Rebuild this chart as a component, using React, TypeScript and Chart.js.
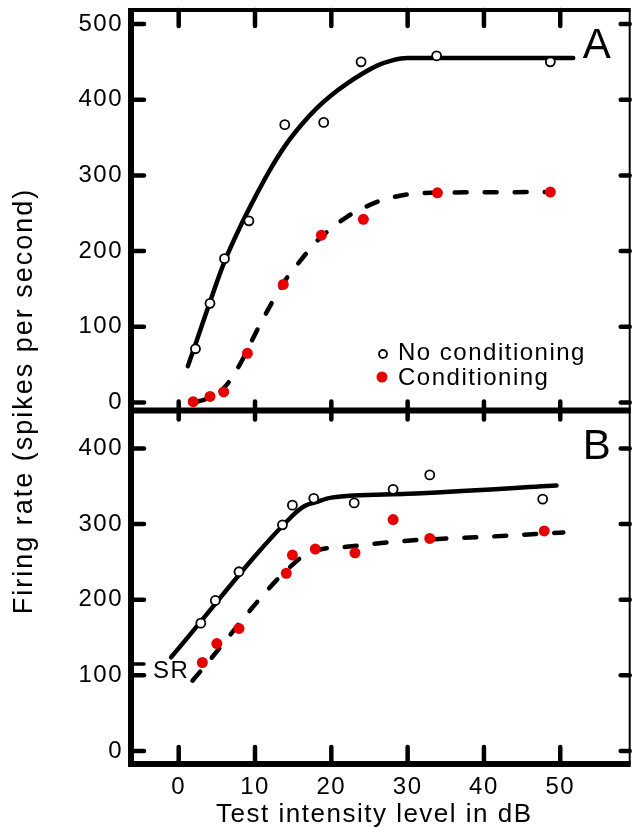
import React, { useEffect, useRef } from "react";
import { Chart, registerables } from "chart.js";

Chart.register(...registerables);

// ---- tick values ----
const xTicks = [0, 10, 20, 30, 40, 50];
const yTicksA = [0, 100, 200, 300, 400, 500];
const yTicksB = [0, 100, 200, 300, 400];
const srValue = 115;

// ---- labels ----
const seriesLabels = ["No conditioning", "Conditioning"];
const xTitle = "Test intensity level in dB";
const yTitle = "Firing rate (spikes per second)";
const panelLabels = ["A", "B"];

// ---- Panel A data ----
const aNoCondX = [2.2, 4.1, 6.0, 9.2, 13.9, 19.0, 23.9, 33.8, 48.7];
const aNoCondY = [71, 131, 190, 240, 367, 370, 450, 458, 450];
const aCondX = [1.9, 4.1, 5.9, 9.0, 13.7, 18.7, 24.2, 33.9, 48.7];
const aCondY = [1, 8, 14, 65, 156, 221, 242, 277, 278];
const aFitNoX = [1.2, 2, 4, 6, 8, 10, 12, 14, 16, 18, 20, 22, 24, 26, 28, 30, 40, 51.7];
const aFitNoY = [48, 71, 130, 186, 231, 271, 308, 340, 366, 388, 406, 421, 434, 445, 452, 455, 455, 455];
const aFitCondX = [1.9, 4, 6, 8, 10, 12, 14, 16, 18, 20, 22, 24, 26, 28, 30, 33, 49];
const aFitCondY = [0, 6, 20, 50, 90, 128, 162, 188, 212, 230, 245, 256, 265, 271, 275, 277, 278];

// ---- Panel B data ----
const bNoCondX = [2.9, 4.8, 7.9, 13.6, 14.9, 17.7, 23.0, 28.1, 32.9, 47.7];
const bNoCondY = [169, 199, 237, 299, 325, 334, 328, 346, 365, 333];
const bCondX = [3.1, 5.0, 7.9, 14.1, 14.9, 17.9, 23.1, 28.1, 32.9, 47.9];
const bCondY = [117, 142, 162, 235, 259, 267, 262, 306, 281, 291];
const bFitNoX = [-1, 15, 16.5, 18, 20, 30, 49.5];
const bFitNoY = [124, 312, 324, 329, 335, 340, 351];
const bFitCondX = [1.8, 15.8, 18, 22, 30, 40, 50.4];
const bFitCondY = [93, 254, 265, 270, 278, 283, 289];

const RED = "#e60000";
const FONT = "'Liberation Sans', Arial, Helvetica, sans-serif";

const pts = (xs: number[], ys: number[]) => xs.map((x, i) => ({ x, y: ys[i] }));

const framePlugin = {
  id: "frame",
  beforeDraw(chart: any) {
    chart.ctx.letterSpacing = "1.5px";
  },
  afterDraw(chart: any) {
    const { ctx, chartArea, scales } = chart;
    const xs = scales.x;
    const yA = scales.yA;
    const yB = scales.yB;
    const L = chartArea.left;
    const R = chartArea.right;
    const T = chartArea.top;
    const Bt = chartArea.bottom;
    const mid = yA.bottom;
    ctx.save();
    ctx.strokeStyle = "#000";
    ctx.fillStyle = "#000";
    const line = (x1: number, y1: number, x2: number, y2: number, w: number) => {
      ctx.lineWidth = w;
      ctx.beginPath();
      ctx.moveTo(x1, y1);
      ctx.lineTo(x2, y2);
      ctx.stroke();
    };
    ctx.lineCap = "butt";
    line(L, T - 2, L, Bt + 3, 6);
    line(L - 3, T, R + 1, T, 4);
    line(L - 3, mid, R + 1, mid, 6);
    line(L - 3, Bt, R + 1, Bt, 6);
    line(R, T, R, Bt, 2);

    ctx.lineCap = "round";
    for (const v of yTicksA) {
      const p = yA.getPixelForValue(v);
      line(L, p, L + 13, p, 4.5);
      line(R, p, R - 9, p, 4.5);
    }
    for (const v of yTicksB) {
      const p = yB.getPixelForValue(v);
      line(L, p, L + 13, p, 4.5);
      line(R, p, R - 9, p, 4.5);
    }
    const srP = yB.getPixelForValue(srValue);
    line(L, srP, L + 13, srP, 3.5);
    for (const v of xTicks) {
      const p = xs.getPixelForValue(v);
      line(p, T, p, T + 16, 4.5);
      line(p, mid - 9, p, mid + 9, 4.5);
      line(p, Bt - 17, p, Bt, 4.5);
    }

    // texts
    ctx.letterSpacing = "1.5px";
    ctx.textBaseline = "middle";
    ctx.textAlign = "left";
    ctx.font = `24px ${FONT}`;
    ctx.fillText("SR", L + 22, srP + 7);

    // legend
    const lx = 383;
    ctx.font = `24px ${FONT}`;
    ctx.beginPath();
    ctx.arc(lx, 354, 4, 0, Math.PI * 2);
    ctx.fillStyle = "#fff";
    ctx.fill();
    ctx.lineWidth = 1.8;
    ctx.stroke();
    ctx.fillStyle = "#000";
    ctx.fillText(seriesLabels[0], lx + 15, 353);
    ctx.beginPath();
    ctx.arc(lx - 1, 377, 5.5, 0, Math.PI * 2);
    ctx.fillStyle = RED;
    ctx.fill();
    ctx.fillStyle = "#000";
    ctx.fillText(seriesLabels[1], lx + 15, 378);

    // panel letters
    ctx.letterSpacing = "0px";
    ctx.textAlign = "center";
    ctx.font = `42px ${FONT}`;
    ctx.fillText(panelLabels[0], R - 33, T + 36);
    ctx.fillText(panelLabels[1], R - 33, mid + 37);

    // axis titles
    ctx.letterSpacing = "1.5px";
    ctx.font = `26px ${FONT}`;
    ctx.fillText(xTitle, (L + R) / 2 - 6, Bt + 51);
    ctx.save();
    ctx.translate(25, (T + Bt) / 2 + 14);
    ctx.rotate(-Math.PI / 2);
    ctx.letterSpacing = "2px";
    ctx.font = `27px ${FONT}`;
    ctx.textAlign = "center";
    ctx.fillText(yTitle, 0, 0);
    ctx.restore();
    ctx.restore();
  },
};

export default function App() {
  const ref = useRef<HTMLCanvasElement | null>(null);
  useEffect(() => {
    document.body.style.margin = "0";
    const canvas = ref.current!;
    const lineDs = (xsArr: number[], ysArr: number[], yAxisID: string, dashed: boolean) => ({
      type: "scatter" as const,
      data: pts(xsArr, ysArr),
      yAxisID,
      xAxisID: "x",
      showLine: true,
      fill: false,
      borderColor: "#000",
      borderWidth: 4.5,
      borderDash: dashed ? [12, 18] : [],
      borderCapStyle: "round",
      borderJoinStyle: "round",
      cubicInterpolationMode: "monotone",
      pointRadius: 0,
      pointHoverRadius: 0,
      order: 1,
    });
    const openDs = (xsArr: number[], ysArr: number[], yAxisID: string) => ({
      type: "scatter" as const,
      label: seriesLabels[0],
      data: pts(xsArr, ysArr),
      yAxisID,
      xAxisID: "x",
      showLine: false,
      pointRadius: 4.5,
      pointBorderWidth: 1.8,
      pointBackgroundColor: "#fff",
      pointBorderColor: "#000",
      order: 0,
    });
    const redDs = (xsArr: number[], ysArr: number[], yAxisID: string) => ({
      type: "scatter" as const,
      label: seriesLabels[1],
      data: pts(xsArr, ysArr),
      yAxisID,
      xAxisID: "x",
      showLine: false,
      pointRadius: 5.5,
      pointBorderWidth: 0,
      pointBackgroundColor: RED,
      pointBorderColor: RED,
      order: 0,
    });
    const tickFont = { family: FONT, size: 24 };
    const yCommon = (ticksArr: number[]) => ({
      type: "linear" as const,
      position: "left" as const,
      stack: "panels",
      grid: { display: false, drawTicks: false },
      border: { display: false },
      ticks: { font: tickFont, color: "#000", padding: 8 },
      afterFit: (s: any) => {
        s.width = 131;
        s.paddingTop = 0;
        s.paddingBottom = 0;
        s.paddingLeft = 0;
        s.paddingRight = 0;
      },
      afterBuildTicks: (s: any) => {
        s.ticks = ticksArr.map((v) => ({ value: v }));
      },
    });
    const chart = new Chart(canvas, {
      type: "scatter",
      data: {
        datasets: [
          lineDs(aFitNoX, aFitNoY, "yA", false),
          lineDs(aFitCondX, aFitCondY, "yA", true),
          lineDs(bFitNoX, bFitNoY, "yB", false),
          lineDs(bFitCondX, bFitCondY, "yB", true),
          openDs(aNoCondX, aNoCondY, "yA"),
          redDs(aCondX, aCondY, "yA"),
          openDs(bNoCondX, bNoCondY, "yB"),
          redDs(bCondX, bCondY, "yB"),
        ] as any,
      },
      options: {
        responsive: false,
        animation: false,
        devicePixelRatio: 1,
        layout: { padding: { left: 0, right: 3, top: 10, bottom: 0 } },
        plugins: { legend: { display: false }, tooltip: { enabled: false } },
        events: [],
        scales: {
          x: {
            type: "linear",
            position: "bottom",
            min: -6.25,
            max: 59.1,
            grid: { display: false, drawTicks: false },
            border: { display: false },
            ticks: { font: tickFont, color: "#000", padding: 9 },
            afterFit: (s: any) => {
              s.height = 70;
              s.paddingTop = 0;
              s.paddingBottom = 0;
              s.paddingLeft = 0;
              s.paddingRight = 0;
            },
            afterBuildTicks: (s: any) => {
              s.ticks = xTicks.map((v) => ({ value: v }));
            },
          },
          yB: { ...yCommon(yTicksB), min: -17.2, max: 450.2, stackWeight: 354 },
          yA: { ...yCommon(yTicksA), min: -10.55, max: 518.5, stackWeight: 401 },
        } as any,
      },
      plugins: [framePlugin],
    });
    return () => chart.destroy();
  }, []);
  return <canvas ref={ref} width={636} height={834} style={{ display: "block", width: 636, height: 834 }} />;
}
